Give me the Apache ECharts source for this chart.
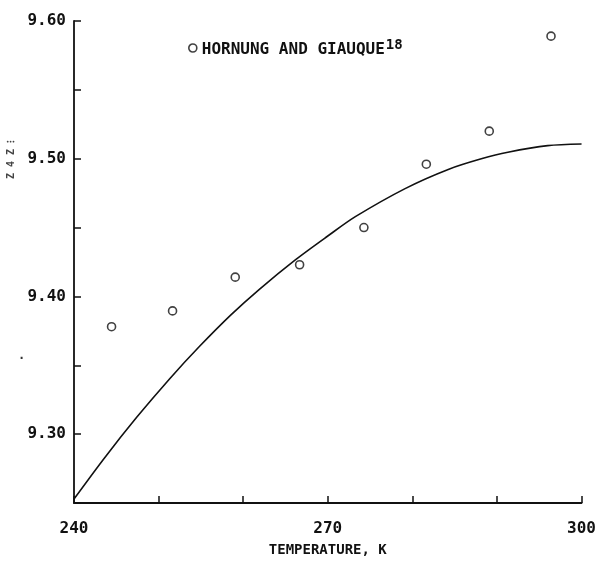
<!DOCTYPE html>
<html>
<head>
<meta charset="utf-8">
<script src="https://cdn.jsdelivr.net/npm/echarts@6/dist/echarts.min.js"></script>
<style>
html,body{margin:0;padding:0;background:#fff;}
#chart{width:599px;height:562px;}
</style>
</head>
<body>
<div id="chart"></div>
<script>
// Reading from the reference
var legendName = 'HORNUNG AND GIAUQUE';
var legendRef = '18';
var xAxisName = 'TEMPERATURE, K';
var xTickLabels = [240, 270, 300];
var yTickLabels = ['9.30', '9.40', '9.50', '9.60'];

// Calculated curve
var curveT = [240.0, 243.65, 247.41, 251.29, 254.82, 258.55, 261.88, 266.2, 269.92, 273.26, 279.14, 284.24, 288.15, 291.29, 296.0, 300.0];
var curveV = [9.2529, 9.2831, 9.3122, 9.3401, 9.3636, 9.3866, 9.4050, 9.4267, 9.4435, 9.4579, 9.4783, 9.4922, 9.4999, 9.5047, 9.5095, 9.5107];

// Hornung and Giauque data points
var pointT = [244.44, 251.65, 259.06, 266.67, 274.27, 281.65, 289.09, 296.39];
var pointV = [9.378, 9.3895, 9.414, 9.423, 9.450, 9.496, 9.520, 9.589];

var FONT = 'DejaVu Sans Mono';
var chart = echarts.init(document.getElementById('chart'), null, {renderer: 'canvas'});

var curveData = curveT.map(function (t, i) { return [t, curveV[i]]; });
var pointData = pointT.map(function (t, i) { return [t, pointV[i]]; });

chart.setOption({
  animation: false,
  backgroundColor: '#ffffff',
  grid: {left: 74, right: 15, top: 21, bottom: 55, containLabel: false},
  legend: {
    show: true,
    left: 183,
    top: 33,
    itemWidth: 8,
    itemHeight: 8,
    itemGap: 0,
    data: [{name: legendName, icon: 'circle', itemStyle: {color: '#fff', borderColor: '#111', borderWidth: 1.6}}],
    formatter: function (n) { return '{t|' + n + '}{s|' + legendRef + '}'; },
    textStyle: {
      rich: {
        t: {fontFamily: FONT, fontWeight: 'bold', fontSize: 16, color: '#111', verticalAlign: 'bottom', lineHeight: 20},
        s: {fontFamily: FONT, fontWeight: 'bold', fontSize: 14, color: '#111', verticalAlign: 'top', padding: [0, 0, 10, 1], lineHeight: 20}
      }
    }
  },
  xAxis: {
    type: 'value',
    min: 240,
    max: 300,
    interval: 10,
    name: xAxisName,
    nameLocation: 'middle',
    nameGap: 40,
    nameTextStyle: {fontFamily: FONT, fontWeight: 'bold', fontSize: 14, color: '#111'},
    axisLine: {show: true, lineStyle: {color: '#111', width: 1.8}},
    axisTick: {show: true, inside: true, length: 7, lineStyle: {color: '#111', width: 1.5}},
    splitLine: {show: false},
    axisLabel: {
      margin: 18,
      fontFamily: FONT, fontWeight: 'bold', fontSize: 16, color: '#111',
      formatter: function (v) { return xTickLabels.indexOf(Math.round(v)) >= 0 ? String(Math.round(v)) : ''; }
    }
  },
  yAxis: {
    type: 'value',
    min: 9.25,
    max: 9.60,
    interval: 0.05,
    axisLine: {show: true, lineStyle: {color: '#111', width: 1.8}},
    axisTick: {show: true, inside: true, length: 7, lineStyle: {color: '#111', width: 1.5}},
    splitLine: {show: false},
    axisLabel: {
      margin: 8,
      fontFamily: FONT, fontWeight: 'bold', fontSize: 16, color: '#111',
      formatter: function (v) { var s = v.toFixed(2); return yTickLabels.indexOf(s) >= 0 ? s : ''; }
    }
  },
  graphic: [
    {type: 'text', left: 6, top: 140, rotation: Math.PI / 2,
     style: {text: 'Z 4 Z \u205D', fontFamily: FONT, fontWeight: 'bold', fontSize: 10, fill: '#444'}},
    {type: 'text', left: 18, top: 350,
     style: {text: '.', fontFamily: FONT, fontWeight: 'bold', fontSize: 12, fill: '#333'}}
  ],
  series: [
    {
      name: 'curve',
      type: 'line',
      data: curveData,
      smooth: 0.3,
      showSymbol: false,
      symbol: 'none',
      lineStyle: {color: '#111', width: 1.6},
      z: 2
    },
    {
      name: legendName,
      type: 'scatter',
      data: pointData,
      symbol: 'circle',
      symbolSize: 8,
      itemStyle: {color: '#fff', borderColor: '#111', borderWidth: 1.6},
      z: 3
    }
  ]
});
</script>
</body>
</html>
